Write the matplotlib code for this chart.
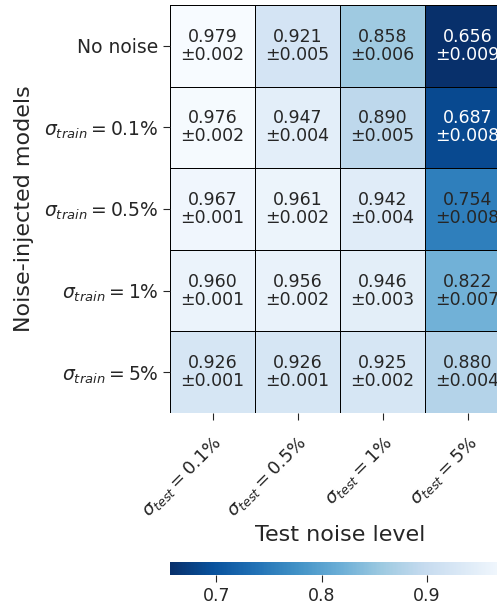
import numpy as np
import matplotlib
matplotlib.use("Agg")
import matplotlib.pyplot as plt
from matplotlib import colors

# Mean accuracy and spread for each training/test noise combination
row_labels = ["No noise", r"$\sigma_{train} = 0.1\%$", r"$\sigma_{train} = 0.5\%$",
              r"$\sigma_{train} = 1\%$", r"$\sigma_{train} = 5\%$"]
col_labels = [r"$\sigma_{test} = 0.1\%$", r"$\sigma_{test} = 0.5\%$",
              r"$\sigma_{test} = 1\%$", r"$\sigma_{test} = 5\%$"]

mean_acc = np.array([
    [0.979, 0.921, 0.858, 0.656],
    [0.976, 0.947, 0.890, 0.687],
    [0.967, 0.961, 0.942, 0.754],
    [0.960, 0.956, 0.946, 0.822],
    [0.926, 0.926, 0.925, 0.880],
])
std_acc = np.array([
    [0.002, 0.005, 0.006, 0.009],
    [0.002, 0.004, 0.005, 0.008],
    [0.001, 0.002, 0.004, 0.008],
    [0.001, 0.002, 0.003, 0.007],
    [0.001, 0.001, 0.002, 0.004],
])
cbar_ticks = [0.7, 0.8, 0.9]

W, H, DPI = 497, 606, 100
fig = plt.figure(figsize=(W / DPI, H / DPI), dpi=DPI)

x0, x1 = 170, 510
y0, y1 = 5, 413
ax = fig.add_axes([x0 / W, 1 - y1 / H, (x1 - x0) / W, (y1 - y0) / H])

cmap = plt.get_cmap("Blues_r")
norm = colors.Normalize(vmin=mean_acc.min(), vmax=mean_acc.max())
nr, nc = mean_acc.shape
mesh = ax.pcolormesh(np.arange(nc + 1), np.arange(nr + 1), mean_acc, cmap=cmap,
                     norm=norm, edgecolors="black", linewidth=0.5)
ax.set_xlim(0, nc)
ax.set_ylim(nr, 0)
for s in ax.spines.values():
    s.set_visible(False)

for i in range(nr):
    for j in range(nc):
        r, g, b, _ = cmap(norm(mean_acc[i, j]))
        lum = 0.2126 * r + 0.7152 * g + 0.0722 * b
        tc = "#262626" if lum > 0.408 else "white"
        ax.text(j + 0.5, i + 0.5, f"{mean_acc[i, j]:.3f}\n\u00b1{std_acc[i, j]:.3f}",
                ha="center", va="center", fontsize=12.5, color=tc, linespacing=1.0)

ax.set_xticks(np.arange(nc) + 0.5)
ax.set_xticklabels(col_labels, rotation=45, ha="right", rotation_mode="anchor",
                   fontsize=13)
ax.set_yticks(np.arange(nr) + 0.5)
ax.set_yticklabels(row_labels, fontsize=13.5)
ax.tick_params(colors="#262626", length=5)
ax.tick_params(axis="x", pad=9)
ax.set_xlabel("Test noise level", fontsize=16, color="#262626", labelpad=3)
ax.set_ylabel("Noise-injected models", fontsize=16, color="#262626", labelpad=7)

cax = fig.add_axes([x0 / W, 1 - 575 / H, (x1 - x0) / W, 13 / H])
cb = fig.colorbar(mesh, cax=cax, orientation="horizontal", ticks=cbar_ticks)
cb.outline.set_visible(False)
cb.ax.tick_params(labelsize=12.5, colors="#262626", length=5)

fig.savefig("out.png", dpi=DPI)
